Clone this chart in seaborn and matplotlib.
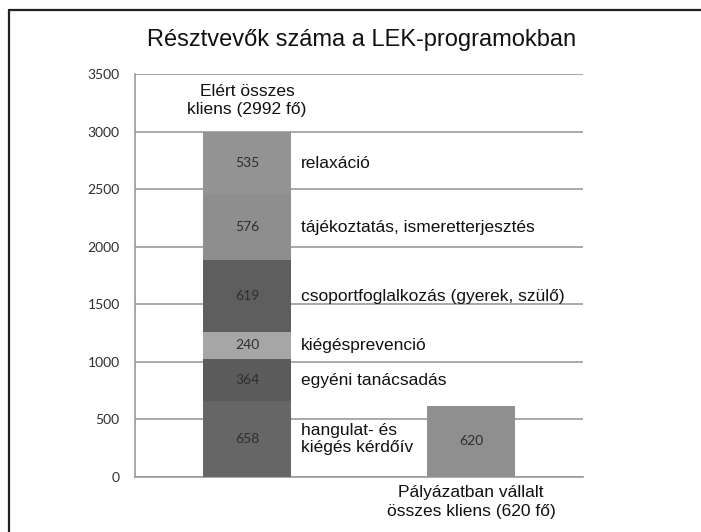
import matplotlib
matplotlib.use('Agg')
import matplotlib.pyplot as plt
from matplotlib.lines import Line2D
import seaborn as sns
import numpy as np
import pandas as pd

# data
programs = ['hangulat- és\nkiégés kérdőív', 'egyéni tanácsadás', 'kiégésprevenció',
            'csoportfoglalkozás (gyerek, szülő)', 'tájékoztatás, ismeretterjesztés', 'relaxáció']
counts = [658, 364, 240, 619, 576, 535]
seg_colors = ['#666666', '#5b5b5b', '#a6a6a6', '#5e5e5e', '#8e8e8e', '#939393']
categories = ['Elért összes\nkliens (2992 fő)', 'Pályázatban vállalt\nösszes kliens (620 fő)']
planned = 620
planned_color = '#8f8f8f'
title = 'Résztvevők száma a LEK-programokban'

sns.set_style('white')
plt.rcParams['font.family'] = ['Liberation Sans', 'DejaVu Sans']

fig = plt.figure(figsize=(7.01, 5.32), dpi=100)
ax = fig.add_axes([0.1926, 0.1034, 0.8317 - 0.1926, 0.861 - 0.1034])

tops = np.cumsum(counts)
bottoms = tops - np.array(counts)
order = ['A', 'B']
bw = 0.39
# stacked bar: draw cumulative heights from the top down so lower segments overlay
for i in range(len(counts) - 1, -1, -1):
    df = pd.DataFrame({'cat': ['A'], 'val': [tops[i]]})
    sns.barplot(data=df, x='cat', y='val', order=order, color=seg_colors[i],
                saturation=1, width=bw, linewidth=0, ax=ax, zorder=3)
df2 = pd.DataFrame({'cat': ['B'], 'val': [planned]})
sns.barplot(data=df2, x='cat', y='val', order=order, color=planned_color,
            saturation=1, width=bw, linewidth=0, ax=ax, zorder=3)

num_font = dict(family=['Lato', 'DejaVu Sans'], fontsize=10, color='#2e2e2e')
for i, c in enumerate(counts):
    mid = bottoms[i] + c / 2
    ax.text(0, mid, str(c), ha='center', va='center', zorder=5, **num_font)
    ax.text(0.24, mid, programs[i], ha='left', va='center', fontsize=12.5,
            color='#111111', linespacing=1.2, zorder=5)
ax.text(1, planned / 2, str(planned), ha='center', va='center', zorder=5, **num_font)
ax.text(0, 3270, categories[0], ha='center', va='center', fontsize=12.5,
        color='#111111', linespacing=1.25)

ax.set_ylim(0, 3500)
ax.set_xlim(-0.5, 1.5)
ax.set_yticks(np.arange(0, 3501, 500))
ax.set_yticklabels([str(v) for v in range(0, 3501, 500)], **num_font)
ax.yaxis.grid(True, color='#a3a3a3', linewidth=1.3, zorder=0)
ax.set_axisbelow(True)
ax.tick_params(axis='y', length=5, color='#9a9a9a', width=1, pad=6)

ax.set_xticks([1])
ax.set_xticklabels([categories[1]], fontsize=12.5, color='#111111', linespacing=1.3)
ax.set_xticks([-0.5, 0.5, 1.5], minor=True)
ax.tick_params(axis='x', which='major', length=0, pad=6)
ax.tick_params(axis='x', which='minor', length=5, color='#9a9a9a', width=1)
ax.set_xlabel('')
ax.set_ylabel('')

for s in ['top', 'right']:
    ax.spines[s].set_visible(False)
ax.spines['left'].set_color('#9a9a9a')
ax.spines['bottom'].set_color('#9a9a9a')
ax.spines['left'].set_linewidth(1.2)
ax.spines['bottom'].set_linewidth(1.2)

fig.text(0.516, 1 - 40 / 532, title, ha='center', va='center', fontsize=17, color='#111111')

# frame line around the slide (left and top edges visible)
fig.add_artist(Line2D([9 / 701, 9 / 701], [0, 1 - 10 / 532], transform=fig.transFigure,
                      color='#222222', linewidth=1.6))
fig.add_artist(Line2D([9 / 701, 1], [1 - 10 / 532, 1 - 10 / 532], transform=fig.transFigure,
                      color='#222222', linewidth=1.6))

fig.savefig('out.png', dpi=100)
